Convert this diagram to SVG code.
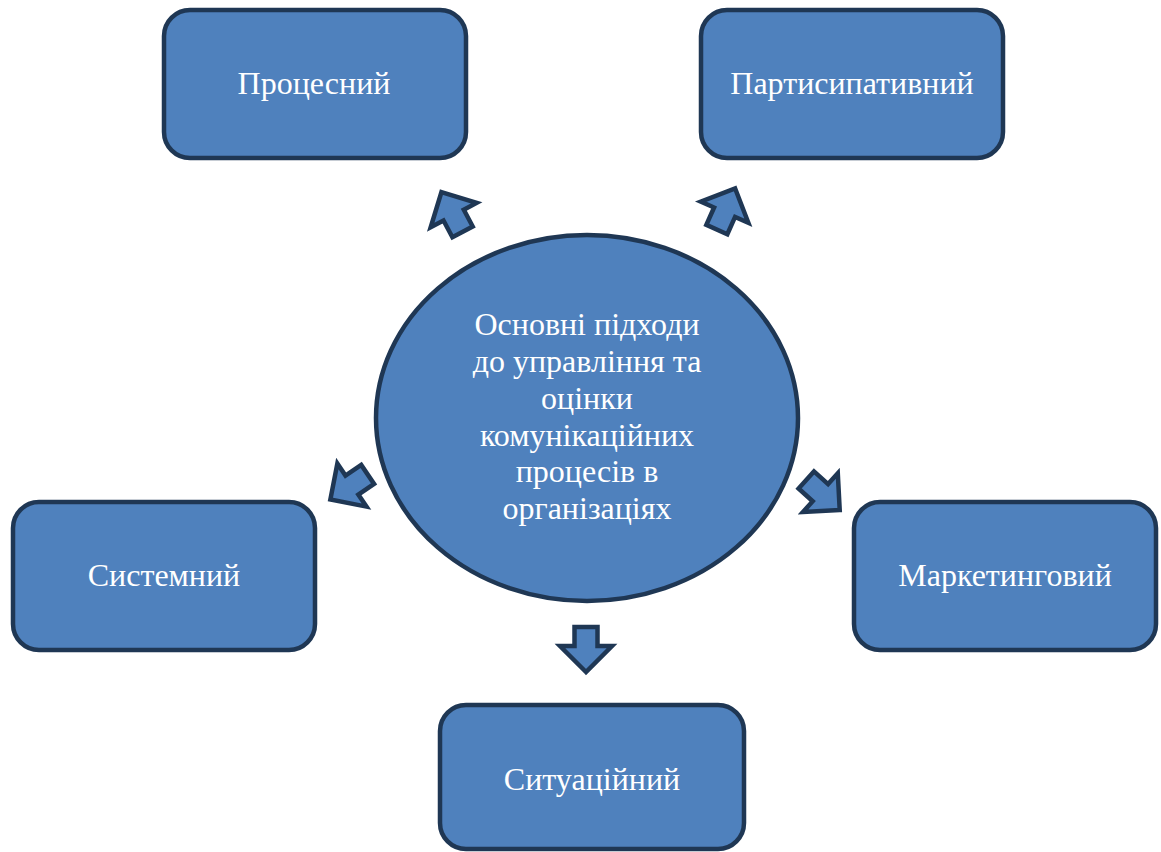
<svg xmlns="http://www.w3.org/2000/svg" width="1161" height="852" viewBox="0 0 1161 852">
<style>
.box{fill:#4F81BD;stroke:#1F3754;stroke-width:4.5}
.t{font-family:"Liberation Serif","Times New Roman",serif;font-size:32px;fill:#FFFFFF;text-anchor:middle}
.arr{fill:#4F81BD;stroke:#1F3754;stroke-width:4.5;stroke-linejoin:miter}
</style>
<defs>
<polygon id="ar" points="0,-22.5 26,3.5 11.5,3.5 11.5,22.5 -11.5,22.5 -11.5,3.5 -26,3.5"/>
</defs>
<rect width="1161" height="852" fill="#FFFFFF"/>
<g id="connectors">
<use href="#ar" class="arr" transform="translate(452,212) rotate(-28)"/>
<use href="#ar" class="arr" transform="translate(726,209) rotate(24)"/>
<use href="#ar" class="arr" transform="translate(349,487) rotate(-124)"/>
<use href="#ar" class="arr" transform="translate(823,495) rotate(132)"/>
<use href="#ar" class="arr" transform="translate(586,649.5) rotate(180)"/>
</g>
<g id="center">
<ellipse cx="587" cy="418" rx="211" ry="183" class="box"/>
<text class="t" x="587" y="335">Основні підходи</text>
<text class="t" x="587" y="372">до управління та</text>
<text class="t" x="587" y="408.5">оцінки</text>
<text class="t" x="587" y="445.5">комунікаційних</text>
<text class="t" x="587" y="482">процесів в</text>
<text class="t" x="587" y="519">організаціях</text>
</g>
<g id="n1">
<rect x="164" y="10" width="302" height="148" rx="26" class="box"/>
<text class="t" x="314" y="94">Процесний</text>
</g>
<g id="n2">
<rect x="701" y="10" width="302" height="148" rx="26" class="box"/>
<text class="t" x="852" y="94">Партисипативний</text>
</g>
<g id="n3">
<rect x="13" y="502" width="302" height="148" rx="26" class="box"/>
<text class="t" x="164" y="586">Системний</text>
</g>
<g id="n4">
<rect x="854" y="502" width="302" height="148" rx="26" class="box"/>
<text class="t" x="1005" y="586">Маркетинговий</text>
</g>
<g id="n5">
<rect x="440" y="705" width="304" height="144" rx="26" class="box"/>
<text class="t" x="592" y="790">Ситуаційний</text>
</g>
</svg>
